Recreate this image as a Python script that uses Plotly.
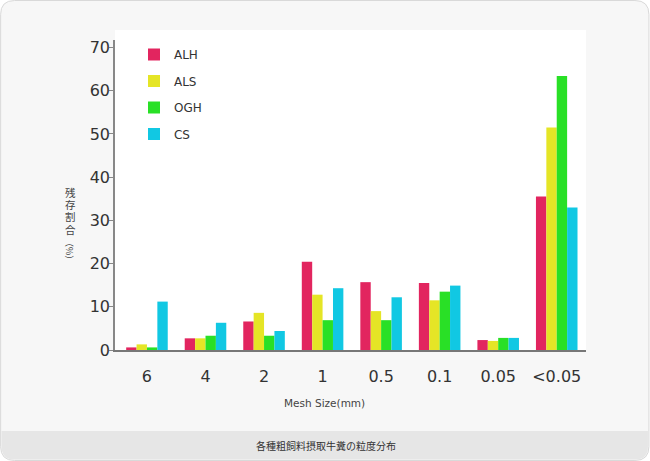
import plotly.graph_objects as go

# ---------------- data ----------------
categories = ["6", "4", "2", "1", "0.5", "0.1", "0.05", "<0.05"]
series_names = ["ALH", "ALS", "OGH", "CS"]
alh = [0.6, 2.7, 6.6, 20.4, 15.7, 15.5, 2.3, 35.5]
als = [1.3, 2.7, 8.6, 12.8, 9.0, 11.5, 2.1, 51.5]
ogh = [0.6, 3.3, 3.3, 6.9, 6.9, 13.5, 2.8, 63.4]
cs = [11.2, 6.3, 4.4, 14.3, 12.2, 14.9, 2.8, 33.0]
y_ticks = [0, 10, 20, 30, 40, 50, 60, 70]
x_title = "Mesh Size(mm)"
y_title_chars = ["残", "存", "割", "合"]
y_title_unit = "（%）"
caption = "各種粗飼料摂取牛糞の粒度分布"

colors = ["#e2255f", "#e5e526", "#29e026", "#11c8e3"]
values = [alh, als, ogh, cs]

# ---------------- layout geometry (pixels) ----------------
W, H = 650, 461
L, R = 115, 586.5          # plot area left / right
T, B = 40, 350             # plot area top / bottom
PW, PH = R - L, B - T


def px(x):
    return (x - L) / PW


def py(y):
    return (B - y) / PH


def rounded_rect(x0, y0, x1, y1, r, top=True, bottom=True):
    rt = r if top else 0
    rb = r if bottom else 0
    pts = []
    pts.append(f"M{px(x0 + rt)},{py(y0)}")
    pts.append(f"L{px(x1 - rt)},{py(y0)}")
    if rt:
        pts.append(f"Q{px(x1)},{py(y0)} {px(x1)},{py(y0 + rt)}")
    pts.append(f"L{px(x1)},{py(y1 - rb)}")
    if rb:
        pts.append(f"Q{px(x1)},{py(y1)} {px(x1 - rb)},{py(y1)}")
    pts.append(f"L{px(x0 + rb)},{py(y1)}")
    if rb:
        pts.append(f"Q{px(x0)},{py(y1)} {px(x0)},{py(y1 - rb)}")
    pts.append(f"L{px(x0)},{py(y0 + rt)}")
    if rt:
        pts.append(f"Q{px(x0)},{py(y0)} {px(x0 + rt)},{py(y0)}")
    pts.append("Z")
    return " ".join(pts)


fig = go.Figure()
for name, vals, col in zip(series_names, values, colors):
    fig.add_trace(go.Bar(
        x=categories, y=vals, name=name, legendgroup=name,
        marker=dict(color=col, line=dict(width=0)),
        hoverinfo="x+y+name",
    ))

shapes = [
    # card
    dict(type="path", xref="paper", yref="paper", layer="below",
         path=rounded_rect(0.5, 0.5, 649.5, 460.5, 14),
         fillcolor="#f7f7f7", line=dict(color="#d9d9d9", width=1)),
    # caption band
    dict(type="path", xref="paper", yref="paper", layer="below",
         path=rounded_rect(1.5, 431, 648.5, 459.5, 13, top=False),
         fillcolor="#e6e6e6", line=dict(width=0)),
    # white chart panel (plot area plus strip above it)
    dict(type="rect", xref="paper", yref="paper", layer="below",
         x0=px(L), x1=px(R), y0=py(B), y1=py(30),
         fillcolor="#ffffff", line=dict(width=0)),
]

ytitle_font = dict(family="DejaVu Sans, Noto Sans CJK JP", size=10.5, color="#444444")

annotations = [
    dict(text=x_title, xref="paper", yref="paper", x=px(325), y=py(403),
         showarrow=False, xanchor="center", yanchor="middle",
         font=dict(family="DejaVu Sans", size=10.5, color="#444444")),
    dict(text=caption, xref="paper", yref="paper", x=px(326), y=py(446),
         showarrow=False, xanchor="center", yanchor="middle",
         font=dict(family="Noto Sans CJK JP", size=10, color="#333333")),
    dict(text=y_title_unit, xref="paper", yref="paper", x=px(70), y=py(236),
         showarrow=False, xanchor="center", yanchor="top", textangle=90,
         font=dict(family="Noto Sans CJK JP", size=9, color="#444444")),
]
for i, ch in enumerate(y_title_chars):
    annotations.append(dict(
        text=ch, xref="paper", yref="paper", x=px(70), y=py(192.5 + i * 12.4),
        showarrow=False, xanchor="center", yanchor="middle", font=ytitle_font))

fig.update_layout(
    width=W, height=H,
    margin=dict(l=L, r=W - R, t=T, b=H - B, pad=0),
    paper_bgcolor="#ffffff",
    plot_bgcolor="#ffffff",
    barmode="group",
    bargap=0.29,
    bargroupgap=0,
    showlegend=True,
    legend=dict(
        x=px(134), y=py(40), xanchor="left", yanchor="top",
        bgcolor="rgba(0,0,0,0)", borderwidth=0,
        traceorder="grouped", tracegroupgap=7.5,
        font=dict(family="DejaVu Sans", size=12, color="#333333"),
    ),
    xaxis=dict(
        type="category", range=[-0.546, 7.5],
        showline=True, linecolor="#777777", linewidth=2,
        ticks="", showgrid=False, zeroline=False,
        tickfont=dict(family="DejaVu Sans", size=16, color="#333333"),
        ticklabelstandoff=11,
    ),
    yaxis=dict(
        range=[0, 71.74], tickvals=y_ticks,
        showline=True, linecolor="#888888", linewidth=1.5,
        ticks="outside", ticklen=4, tickcolor="#888888", tickwidth=1,
        showgrid=False, zeroline=False,
        tickfont=dict(family="DejaVu Sans", size=16, color="#333333"),
        ticklabelstandoff=-4,
    ),
    shapes=shapes,
    annotations=annotations,
)

fig.write_html(
    "out.html",
    config={"displayModeBar": False},
    post_script="document.body.style.margin='0';document.body.style.overflow='hidden';",
)
